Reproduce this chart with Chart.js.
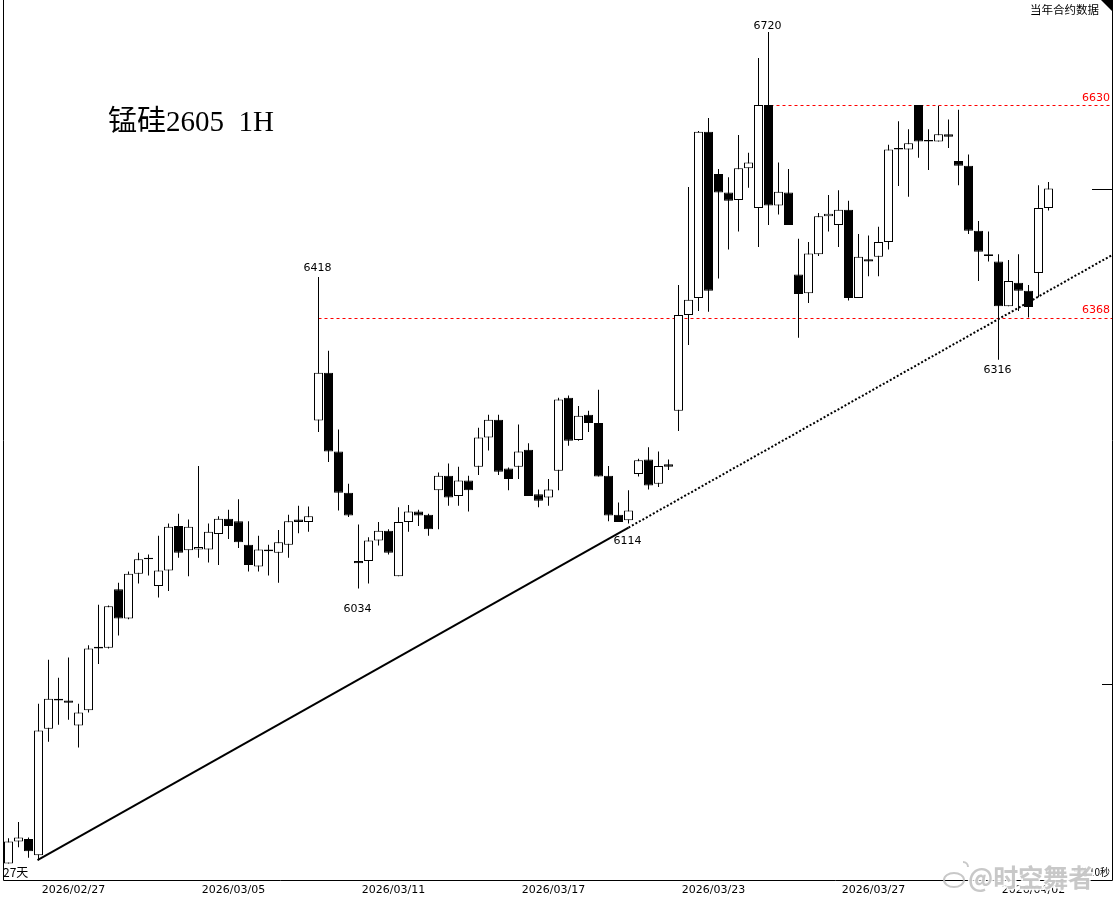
<!DOCTYPE html>
<html>
<head>
<meta charset="utf-8">
<script src="https://cdn.jsdelivr.net/npm/chart.js@4.4.1/dist/chart.umd.min.js"></script>
<style>
  html, body { margin: 0; padding: 0; background: #ffffff; }
  #wrap { position: relative; width: 1115px; height: 900px; overflow: hidden; }
  canvas { display: block; }
  #title { position: absolute; left: 108px; top: 101px; font-family: "Liberation Serif", "Noto Sans CJK SC", serif; font-size: 29px; color: #000; white-space: pre; line-height: 40px; }
  #corner { position: absolute; right: 16px; top: 2px; font-family: "Noto Sans CJK SC", sans-serif; font-size: 11.5px; color: #000; line-height: 14px; }
</style>
</head>
<body>
<div id="wrap">
  <canvas id="c" width="1115" height="900"></canvas>
  <div id="title">锰硅2605  1H</div>
  <div id="corner">当年合约数据</div>
</div>
<script>
// ---- Data (hourly candles) ----
const opens  = [5695,5722,5725,5705,5861,5898,5896,5865,5884,5962,5961,6033,5997,6052,6072,6037,6056,6111,6081,6082,6082,6101,6120,6117,6088,6061,6082,6078,6088,6119,6116,6241,6300,6203,6152,6068,6068,6093,6105,6049,6116,6129,6125,6155,6173,6148,6167,6184,6220,6242,6182,6184,6205,6150,6146,6179,6269,6217,6248,6238,6173,6125,6118,6175,6193,6163,6187,6253,6371,6392,6597,6545,6522,6513,6552,6503,6630,6506,6522,6421,6398,6446,6493,6482,6501,6392,6440,6443,6461,6575,6575,6630,6585,6585,6594,6561,6555,6475,6446,6437,6382,6411,6401,6423,6503];
const highs  = [5726,5746,5727,5892,5946,5924,5949,5892,5964,6014,6013,6041,6055,6078,6076,6099,6114,6126,6119,6185,6114,6123,6131,6144,6117,6099,6088,6106,6125,6136,6135,6418,6327,6230,6163,6113,6097,6116,6107,6134,6137,6131,6126,6177,6188,6184,6173,6232,6248,6248,6183,6236,6213,6156,6169,6269,6272,6259,6253,6279,6185,6140,6155,6194,6208,6203,6193,6408,6529,6598,6614,6551,6541,6593,6571,6688,6720,6559,6551,6465,6461,6497,6519,6525,6512,6471,6469,6480,6581,6610,6600,6630,6600,6629,6612,6624,6569,6487,6474,6446,6439,6446,6408,6531,6535];
const lows   = [5695,5715,5702,5699,5845,5866,5872,5838,5881,5941,5960,5976,5996,6040,6050,6023,6031,6072,6049,6072,6066,6063,6095,6084,6055,6055,6050,6041,6072,6102,6104,6227,6190,6130,6122,6034,6040,6087,6076,6049,6104,6111,6099,6107,6136,6136,6129,6174,6204,6174,6155,6169,6148,6134,6136,6155,6210,6216,6227,6172,6117,6116,6114,6172,6156,6159,6180,6228,6334,6376,6375,6416,6452,6474,6528,6455,6482,6495,6482,6343,6386,6444,6474,6455,6389,6392,6419,6419,6452,6530,6517,6565,6550,6585,6577,6531,6471,6413,6437,6316,6382,6376,6368,6393,6500];
const closes = [5722,5727,5710,5859,5898,5896,5893,5881,5960,5960,6012,5997,6052,6070,6070,6056,6110,6078,6110,6085,6104,6120,6111,6091,6063,6082,6080,6091,6117,6116,6123,6300,6203,6152,6124,6065,6093,6105,6078,6116,6129,6124,6107,6173,6146,6167,6155,6220,6242,6178,6169,6203,6148,6142,6156,6267,6216,6247,6238,6172,6124,6116,6130,6192,6161,6185,6184,6371,6390,6597,6401,6522,6512,6552,6559,6630,6506,6523,6482,6397,6447,6493,6496,6501,6392,6443,6437,6461,6575,6577,6583,6585,6587,6594,6591,6555,6475,6449,6444,6382,6413,6401,6381,6503,6527];

// x-axis date labels and the bar positions where they sit
const dateLabels   = ['2026/02/27','2026/03/05','2026/03/11','2026/03/17','2026/03/23','2026/03/27','2026/04/02'];
const dateTickIdx  = [6.5, 22.5, 38.5, 54.5, 70.5, 86.5, 102.5];

// support line (bar index, price): solid up to the 6114 low, dotted after
const trendIdx   = [2.9, 62, 110.35];
const trendPrice = [5699, 6109, 6445];

// horizontal dashed levels: price and the bar where they start
const levelPrices = [6630, 6368];
const levelStart  = [75, 31];

// extreme price notes: bar index, price
const noteIdx   = [31, 76, 35, 62, 99];
const notePrice = [6418, 6720, 6034, 6114, 6316];

// right-axis tick mark
const axisMarks = [5916];

// ---- Chart ----
const N = opens.length;
const idx = Array.from({length: N}, (_, i) => i);
const bodyColors = idx.map(i => closes[i] >= opens[i] ? '#ffffff' : '#000000');
const noteOffsets = [-9, -6, 21, 18, 10]; // label placement, px from the price

const overlay = {
  id: 'overlay',
  beforeDatasetsDraw(chart) {
    const {ctx, chartArea: a, scales: {x, y}} = chart;
    ctx.save();
    ctx.strokeStyle = '#ff0000';
    ctx.lineWidth = 1;
    ctx.setLineDash([3, 3]);
    levelPrices.forEach((p, k) => {
      const yy = Math.round(y.getPixelForValue(p)) + 0.5;
      ctx.beginPath();
      ctx.moveTo(x.getPixelForValue(levelStart[k]), yy);
      ctx.lineTo(a.right, yy);
      ctx.stroke();
    });
    ctx.restore();
  },
  afterDraw(chart) {
    const {ctx, chartArea: a, scales: {x, y}} = chart;
    ctx.save();
    // frame
    ctx.strokeStyle = '#000';
    ctx.lineWidth = 1;
    ctx.setLineDash([]);
    ctx.beginPath();
    ctx.moveTo(3.5, 0); ctx.lineTo(3.5, Math.round(a.bottom) + 0.5);
    ctx.lineTo(Math.round(a.right) + 0.5, Math.round(a.bottom) + 0.5);
    ctx.lineTo(Math.round(a.right) + 0.5, 0);
    ctx.stroke();
    // last price marker and axis tick
    const lastY = Math.round(y.getPixelForValue(closes[N - 1])) + 0.5;
    ctx.beginPath(); ctx.moveTo(a.right - 20, lastY); ctx.lineTo(a.right, lastY); ctx.stroke();
    axisMarks.forEach(p => {
      const yy = Math.round(y.getPixelForValue(p)) + 0.5;
      ctx.beginPath(); ctx.moveTo(a.right - 10, yy); ctx.lineTo(a.right, yy); ctx.stroke();
    });
    // corner triangle
    ctx.fillStyle = '#000';
    ctx.beginPath(); ctx.moveTo(a.right - 11, 0); ctx.lineTo(a.right, 0); ctx.lineTo(a.right, 11); ctx.closePath(); ctx.fill();
    // level labels
    ctx.font = '11px "DejaVu Sans", sans-serif';
    ctx.fillStyle = '#ff0000';
    ctx.textAlign = 'right';
    ctx.textBaseline = 'middle';
    levelPrices.forEach(p => {
      ctx.fillText(String(p), a.right - 2, y.getPixelForValue(p) - 7);
    });
    // extreme notes
    ctx.fillStyle = '#000';
    ctx.textAlign = 'center';
    noteIdx.forEach((i, k) => {
      const py = y.getPixelForValue(notePrice[k]);
      ctx.fillText(String(notePrice[k]), x.getPixelForValue(i) - 1, py + noteOffsets[k]);
    });
    // bottom-left cycle label and bottom-right countdown
    ctx.font = '12px "Noto Sans CJK SC", sans-serif';
    ctx.textAlign = 'left';
    ctx.fillText('27天', 3, a.bottom - 8);
    ctx.font = '10px "Noto Sans CJK SC", sans-serif';
    ctx.textAlign = 'right';
    ctx.fillText('5分10秒', a.right - 2, a.bottom - 8);
    // watermark
    ctx.font = 'bold 25px "Noto Sans CJK SC", sans-serif';
    ctx.textAlign = 'left';
    ctx.lineWidth = 3;
    ctx.strokeStyle = 'rgba(255,255,255,0.9)';
    ctx.fillStyle = 'rgba(190,190,190,0.85)';
    ctx.strokeText('@时空舞者', 968, 877);
    ctx.fillText('@时空舞者', 968, 877);
    ctx.lineWidth = 2;
    ctx.strokeStyle = 'rgba(190,190,190,0.85)';
    ctx.beginPath(); ctx.ellipse(954, 880, 10, 7, 0, 0, Math.PI * 2); ctx.stroke();
    ctx.beginPath(); ctx.arc(963, 867, 5, -Math.PI / 2, 0); ctx.stroke();
    ctx.restore();
  }
};

new Chart(document.getElementById('c'), {
  type: 'bar',
  data: {
    datasets: [
      {
        type: 'line',
        label: 'trend',
        data: trendIdx.map((v, k) => ({x: v, y: trendPrice[k]})),
        borderColor: '#000',
        borderWidth: 2,
        pointRadius: 0,
        tension: 0,
        segment: { borderDash: c => c.p0DataIndex >= 1 ? [2, 2] : undefined },
        order: 0
      },
      {
        label: 'body',
        data: idx.map(i => ({x: i, y: [opens[i], closes[i]]})),
        backgroundColor: bodyColors,
        borderColor: '#000',
        borderWidth: 1,
        borderSkipped: false,
        barThickness: 9,
        inflateAmount: 0,
        grouped: false,
        order: 1
      },
      {
        label: 'wick',
        data: idx.map(i => ({x: i, y: [lows[i], highs[i]]})),
        backgroundColor: '#000',
        borderWidth: 0,
        barThickness: 1,
        inflateAmount: 0,
        grouped: false,
        order: 2
      }
    ]
  },
  options: {
    responsive: false,
    animation: false,
    layout: { padding: { left: 4, right: 3, top: 0, bottom: -1 } },
    plugins: { legend: { display: false }, tooltip: { enabled: false } },
    scales: {
      x: {
        type: 'linear',
        offset: false,
        min: -0.45,
        max: 110.35,
        grid: { display: false, drawTicks: false, offset: false },
        border: { display: false },
        afterBuildTicks: s => { s.ticks = dateTickIdx.map(v => ({value: v})); },
        ticks: {
          autoSkip: false,
          maxRotation: 0,
          padding: 5,
          color: '#000',
          font: { family: 'DejaVu Sans', size: 11, lineHeight: 1 },
          callback: (v, k) => dateLabels[k]
        }
      },
      y: { display: false, min: 5674.6, max: 6759.45 }
    }
  },
  plugins: [overlay]
});
</script>
</body>
</html>
